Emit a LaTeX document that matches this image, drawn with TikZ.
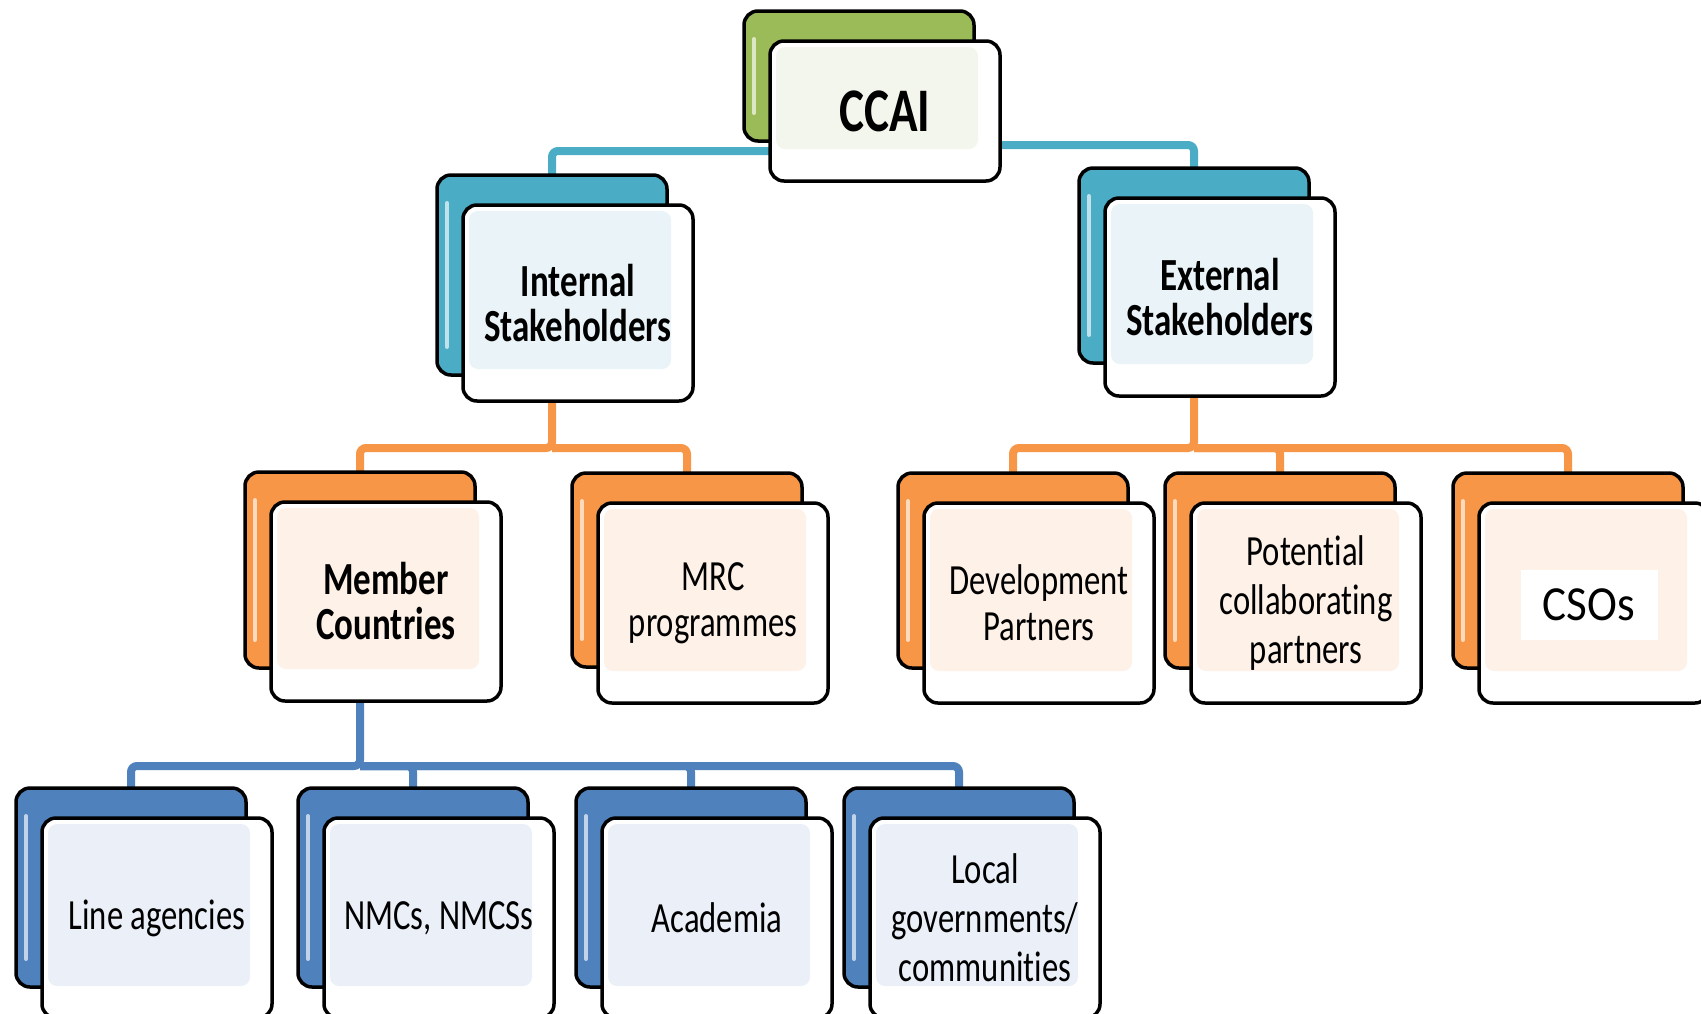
\documentclass[tikz,border=0pt]{standalone}
\usepackage{fontspec}
\setmainfont{Carlito}[FakeStretch=0.76, Ligatures={NoCommon}]
\newfontfamily\csofont{Carlito}[FakeStretch=0.92]
\pgfdeclarelayer{bg}
\pgfsetlayers{bg,main}
\definecolor{cgreen}{HTML}{9BBB59}
\definecolor{cteal}{HTML}{4BACC6}
\definecolor{corange}{HTML}{F79646}
\definecolor{cblue}{HTML}{4F81BD}
\definecolor{tgreen}{HTML}{F3F6EC}
\definecolor{tteal}{HTML}{EAF4F8}
\definecolor{torange}{HTML}{FDF1E8}
\definecolor{tblue}{HTML}{EBF0F8}
\tikzset{
  backbox/.style={rectangle, draw=black, line width=3.5pt, rounded corners=14pt,
    minimum width=230pt, anchor=north west, inner sep=0pt, outer sep=0pt},
  frontbox/.style={rectangle, draw=black, line width=3.5pt, rounded corners=14pt,
    minimum width=230pt, anchor=north west, inner sep=0pt, outer sep=0pt, fill=white},
  lbl/.style={align=center, inner sep=0pt, font=\fontsize{43}{46}\selectfont},
  lblp/.style={align=center, inner sep=0pt, font=\fontsize{43}{49}\selectfont},
  lblb/.style={align=center, inner sep=0pt, font=\bfseries\fontsize{46}{45}\selectfont},
  lbltop/.style={align=center, inner sep=0pt, font=\bfseries\fontsize{62}{62}\selectfont},
  conn/.style={line width=8pt, rounded corners=6pt},
}
\newcommand\stackbox[8]{%
  \node[backbox, fill=c#6, minimum height=#4pt] (#1B) at (#2,#3) {};
  \draw[c#6!35!white, line width=4pt, line cap=round] (#2+10,#3+28) -- (#2+10,#3+#4-28);
  \node[frontbox, minimum height=#5pt] (#1F) at (#2+26,#3+30) {};
  \fill[t#6, rounded corners=9pt] ([shift={(6,6)}]#1F.north west) rectangle ([shift={(-22,-32)}]#1F.south east);
  \node[#7] (#1) at (#1F.center) {#8};
}
\begin{document}
\begin{tikzpicture}[x=1pt, y=-1pt]
\useasboundingbox (0,0) rectangle (1701,1013);

\stackbox{ccai}{744}{11}{130}{140}{green}{lbltop}{CCAI}
\stackbox{int}{437}{175}{200}{196}{teal}{lblb}{Internal\\Stakeholders}
\stackbox{ext}{1079}{168}{195}{198}{teal}{lblb}{External\\Stakeholders}
\stackbox{mem}{245}{472}{196}{199}{orange}{lblb}{Member\\Countries}
\stackbox{mrc}{572}{473}{194}{200}{orange}{lbl}{MRC\\programmes}
\stackbox{dev}{898}{473}{195}{200}{orange}{lbl}{Development\\Partners}
\stackbox{pot}{1165}{473}{195}{200}{orange}{lblp}{Potential\\collaborating\\partners}
\stackbox{cso}{1453}{473}{195}{200}{orange}{lbl}{}
\node[fill=white, minimum width=137pt, minimum height=70pt, inner sep=0pt] (csobg) at (1589,605) {};
\node[inner sep=0pt, font=\csofont\fontsize{49}{49}\selectfont] (csotxt) at (csobg.center) {CSOs};
\stackbox{line}{16}{788}{199}{200}{blue}{lbl}{Line agencies}
\stackbox{nmc}{298}{788}{199}{200}{blue}{lbl}{NMCs, NMCSs}
\stackbox{aca}{576}{788}{199}{200}{blue}{lbl}{Academia}
\stackbox{loc}{844}{788}{199}{200}{blue}{lblp}{Local\\governments/\\communities}

\coordinate (busTa) at (0,151);
\coordinate (busTb) at (0,145);
\coordinate (busO) at (0,448);
\coordinate (busB) at (0,766);

\begin{pgfonlayer}{bg}
\draw[conn, cteal] (ccaiB.south) -- (ccaiB.south |- busTa) -| (intB.north);
\draw[conn, cteal] (ccaiB.south) -- (ccaiB.south |- busTb) -| (extB.north);
\draw[conn, corange] (intB.south) -- (intB.south |- busO) -| (memB.north);
\draw[conn, corange] (intB.south |- busO) -| (mrcB.north);
\draw[conn, corange] (extB.south) -- (extB.south |- busO) -| (devB.north);
\draw[conn, corange] (extB.south |- busO) -| (potB.north);
\draw[conn, corange] (extB.south |- busO) -| (csoB.north);
\draw[conn, cblue] (memB.south) -- (memB.south |- busB) -| (lineB.north);
\draw[conn, cblue] (memB.south |- busB) -| (nmcB.north);
\draw[conn, cblue] (memB.south |- busB) -| (acaB.north);
\draw[conn, cblue] (memB.south |- busB) -| (locB.north);
\end{pgfonlayer}
\end{tikzpicture}
\end{document}
